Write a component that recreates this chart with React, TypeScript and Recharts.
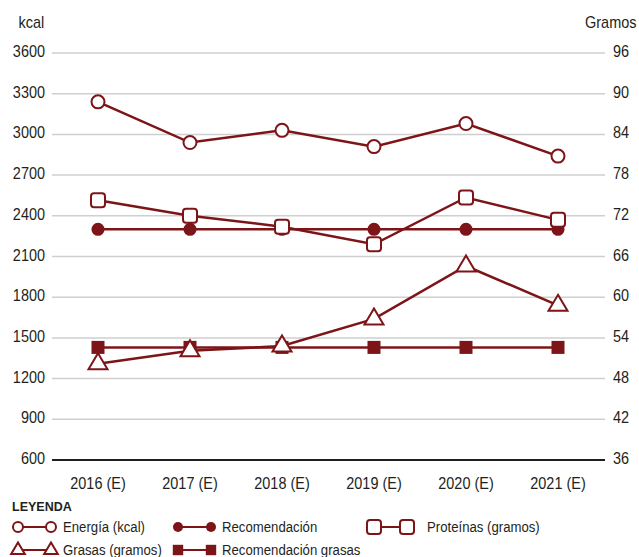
import React from "react";
import { LineChart, Line, XAxis, YAxis, CartesianGrid, ReferenceLine } from "recharts";

const years = ["2016 (E)", "2017 (E)", "2018 (E)", "2019 (E)", "2020 (E)", "2021 (E)"];
const energia = [3240, 2940, 3030, 2910, 3080, 2840];
const recomendacion = [2300, 2300, 2300, 2300, 2300, 2300];
const proteinas = [74.3, 72.0, 70.4, 67.8, 74.7, 71.4];
const grasas = [50.2, 52.1, 52.8, 56.8, 64.6, 58.8];
const recGrasas = [52.6, 52.6, 52.6, 52.6, 52.6, 52.6];

const kcalTicks = [600, 900, 1200, 1500, 1800, 2100, 2400, 2700, 3000, 3300, 3600];
const gramTicks = [36, 42, 48, 54, 60, 66, 72, 78, 84, 90, 96];

const data = years.map((y, i) => ({
  year: y,
  energia: energia[i],
  recomendacion: recomendacion[i],
  proteinas: proteinas[i],
  grasas: grasas[i],
  recGrasas: recGrasas[i],
}));

const RED = "#7d1417";
const INK = "#231f20";
const FONT = "'Liberation Sans', Arial, sans-serif";
const SQUEEZE = 0.85; // no condensed face installed, so narrow the glyphs

// marker shapes, shared by the dots and the legend
const marker = (shape: string, cx: number, cy: number, s: number, key?: any) => {
  switch (shape) {
    case "circleOpen":
      return <circle key={key} cx={cx} cy={cy} r={6.5 * s} fill="#fff" stroke={RED} strokeWidth={2} />;
    case "circle":
      return <circle key={key} cx={cx} cy={cy} r={6.5 * s} fill={RED} />;
    case "squareOpen":
      return <rect key={key} x={cx - 7 * s} y={cy - 7 * s} width={14 * s} height={14 * s} rx={3 * s} fill="#fff" stroke={RED} strokeWidth={2} />;
    case "square":
      return <rect key={key} x={cx - 6.5 * s} y={cy - 6.5 * s} width={13 * s} height={13 * s} fill={RED} />;
    case "triangleOpen":
      return (
        <path
          key={key}
          d={`M${cx},${cy - 10.5 * s} L${cx + 9.5 * s},${cy + 5.5 * s} L${cx - 9.5 * s},${cy + 5.5 * s} Z`}
          fill="#fff"
          stroke={RED}
          strokeWidth={2}
          strokeLinejoin="miter"
        />
      );
    default:
      return null;
  }
};

const series = [
  { key: "energia", name: "Energía (kcal)", axis: "left", shape: "circleOpen" },
  { key: "recomendacion", name: "Recomendación", axis: "left", shape: "circle" },
  { key: "proteinas", name: "Proteínas (gramos)", axis: "right", shape: "squareOpen" },
  { key: "grasas", name: "Grasas (gramos)", axis: "right", shape: "triangleOpen" },
  { key: "recGrasas", name: "Recomendación grasas", axis: "right", shape: "square" },
];

// draw order: recommendation lines below the others
const drawOrder = ["recGrasas", "recomendacion", "grasas", "proteinas", "energia"];

const legendPos: Record<string, { left: number; top: number; gap: number; size: number }> = {
  energia: { left: 8, top: 517, gap: 1, size: 0.77 },
  recomendacion: { left: 168, top: 517, gap: 0, size: 0.77 },
  proteinas: { left: 364, top: 517, gap: 9, size: 1 },
  grasas: { left: 8, top: 540, gap: 1, size: 0.72 },
  recGrasas: { left: 168, top: 540, gap: 0, size: 0.8 },
};

const AxisText = ({ x, y, dy, anchor, value }: any) => (
  <text
    transform={`translate(${x},${y}) scale(${SQUEEZE},1)`}
    dy={dy}
    textAnchor={anchor}
    fontSize={17}
    fill={INK}
    fontFamily={FONT}
  >
    {value}
  </text>
);

const LeftTick = ({ x, y, payload }: any) => <AxisText x={x + 1} y={y} dy={4} anchor="end" value={payload.value} />;
const RightTick = ({ x, y, payload }: any) => <AxisText x={x} y={y} dy={4} anchor="start" value={payload.value} />;
const XTick = ({ x, y, payload }: any) => <AxisText x={x} y={y} dy={21} anchor="middle" value={payload.value} />;

const squeezed = (origin: string): React.CSSProperties => ({
  display: "inline-block",
  transform: `scaleX(${SQUEEZE})`,
  transformOrigin: origin,
  whiteSpace: "nowrap",
});

export default function App() {
  return (
    <div style={{ position: "absolute", left: 0, top: 0, width: 639, height: 557, background: "#fff", fontFamily: FONT, color: INK }}>
      <LineChart width={639} height={500} data={data} margin={{ top: 53, right: 0, bottom: 0, left: 0 }}>
        <CartesianGrid yAxisId="left" vertical={false} stroke="#cfcfcf" strokeWidth={1.5} />
        <XAxis dataKey="year" axisLine={false} tickLine={false} tick={<XTick />} height={40} padding={{ left: 46, right: 47 }} interval={0} />
        <YAxis yAxisId="left" domain={[600, 3600]} ticks={kcalTicks} axisLine={false} tickLine={false} tick={<LeftTick />} width={52} />
        <YAxis yAxisId="right" orientation="right" domain={[36, 96]} ticks={gramTicks} axisLine={false} tickLine={false} tick={<RightTick />} width={34} />
        <ReferenceLine yAxisId="left" y={600} stroke={INK} strokeWidth={2} />
        {drawOrder.map((k) => {
          const s = series.find((d) => d.key === k)!;
          return (
            <Line
              key={s.key}
              yAxisId={s.axis}
              dataKey={s.key}
              name={s.name}
              stroke={RED}
              strokeWidth={2.5}
              isAnimationActive={false}
              dot={(p: any) => marker(s.shape, p.cx, p.cy, 1, `${s.key}-${p.index}`)}
              activeDot={false}
            />
          );
        })}
      </LineChart>

      <div style={{ position: "absolute", left: 0, top: 13, width: 44, textAlign: "right", fontSize: 17 }}>
        <span style={squeezed("right")}>kcal</span>
      </div>
      <div style={{ position: "absolute", right: 3, top: 13, fontSize: 17, textAlign: "right" }}>
        <span style={squeezed("right")}>Gramos</span>
      </div>

      <div style={{ position: "absolute", left: 12, top: 500, fontSize: 12.5, fontWeight: 700 }}>LEYENDA</div>
      {series.map((s) => {
        const lp = legendPos[s.key];
        return (
          <div key={s.key} style={{ position: "absolute", left: lp.left, top: lp.top, display: "flex", alignItems: "center", height: 20 }}>
            <svg width={54} height={20}>
              <line x1={10} y1={10} x2={43} y2={10} stroke={RED} strokeWidth={2} />
              {marker(s.shape, 10, 10, lp.size, "a")}
              {marker(s.shape, 43, 10, lp.size, "b")}
            </svg>
            <span style={{ marginLeft: lp.gap, fontSize: 15.5, ...squeezed("left") }}>{s.name}</span>
          </div>
        );
      })}
    </div>
  );
}
